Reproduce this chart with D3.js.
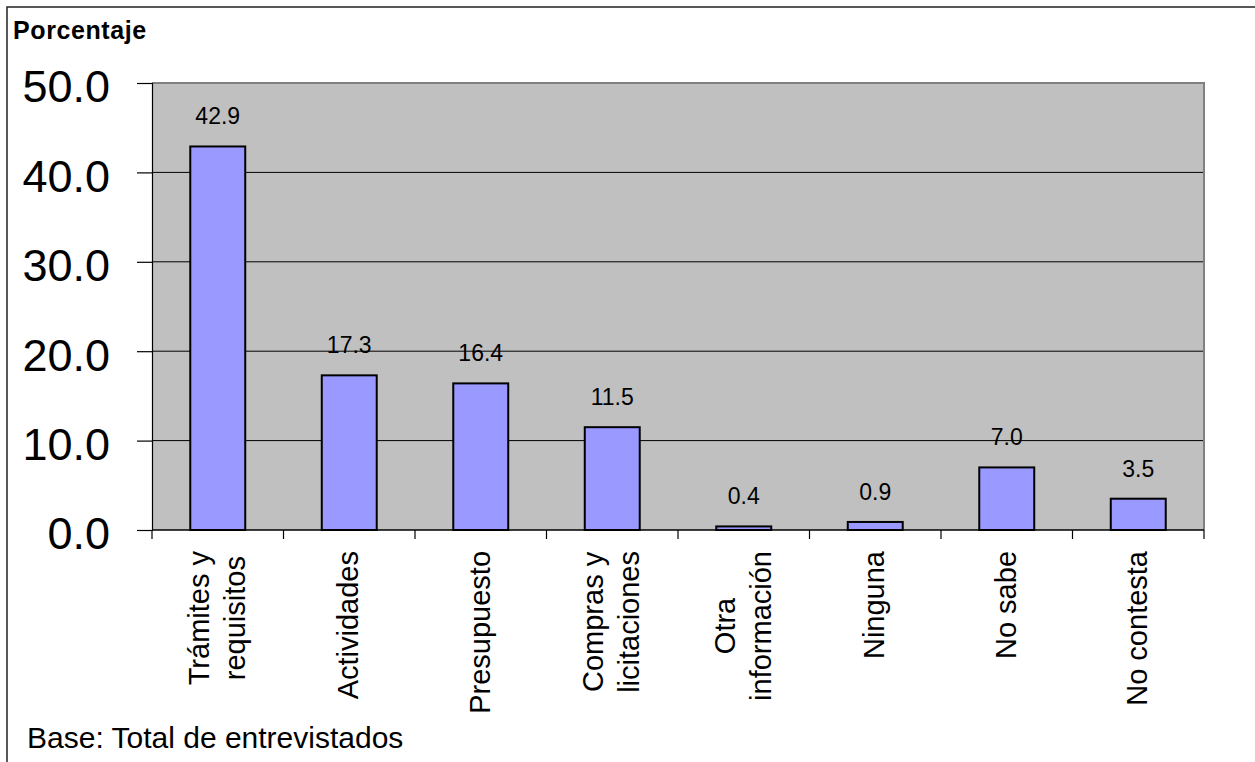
<!DOCTYPE html>
<html>
<head>
<meta charset="utf-8">
<script src="https://cdn.jsdelivr.net/npm/d3@7"></script>
<style>
    body { margin: 0; background: #fff; }
    text { font-family: "Liberation Sans", Arial, sans-serif; }
</style>
</head>
<body>
<svg id="chart" width="1255" height="762"></svg>
<script>
// categories (line breaks as in the original axis labels)
const categories = ["Trámites y\nrequisitos", "Actividades", "Presupuesto", "Compras y\nlicitaciones",
                    "Otra\ninformación", "Ninguna", "No sabe", "No contesta"];
const values = [42.9, 17.3, 16.4, 11.5, 0.4, 0.9, 7.0, 3.5];
const yTicks = [0, 10, 20, 30, 40, 50];

let svg = d3.select("#chart");

let plot = {left: 152, right: 1204, top: 83, bottom: 530};

//Outer frame of the chart object
svg.append("path")
    .attr("d", "M7,762V7H1255")
    .attr("fill", "none")
    .attr("stroke", "#222")
    .attr("stroke-width", 1.5);

let xScale = d3.scaleBand()
    .domain(categories)
    .range([plot.left, plot.right])
    .paddingInner(0.582)
    .paddingOuter(0.291);

let yScale = d3.scaleLinear()
    .domain([0, 50])
    .range([plot.bottom, plot.top]);

//Plot area background
svg.append("rect")
    .attr("x", plot.left)
    .attr("y", plot.top)
    .attr("width", plot.right - plot.left)
    .attr("height", plot.bottom - plot.top)
    .attr("fill", "#C0C0C0");

//Gridlines
svg.append("g").selectAll("line")
    .data(yTicks.filter(d => d > 0 && d < 50))
    .enter().append("line")
    .attr("x1", plot.left)
    .attr("x2", plot.right)
    .attr("y1", d => yScale(d))
    .attr("y2", d => yScale(d))
    .attr("stroke", "#000")
    .attr("stroke-width", 1);

//Plot border top and right
svg.append("path")
    .attr("d", "M" + plot.left + "," + plot.top + "H" + plot.right + "V" + plot.bottom)
    .attr("fill", "none")
    .attr("stroke", "#808080")
    .attr("stroke-width", 2);

//Bars
svg.append("g").selectAll("rect")
    .data(values)
    .enter().append("rect")
    .attr("x", (d, i) => xScale(categories[i]))
    .attr("y", d => yScale(d))
    .attr("width", xScale.bandwidth())
    .attr("height", d => yScale(0) - yScale(d))
    .attr("fill", "#9999FF")
    .attr("stroke", "#000")
    .attr("stroke-width", 2);

//Value labels
svg.append("g").selectAll("text")
    .data(values)
    .enter().append("text")
    .attr("x", (d, i) => xScale(categories[i]) + xScale.bandwidth() / 2)
    .attr("y", d => yScale(d) - 22)
    .attr("text-anchor", "middle")
    .attr("font-size", 23)
    .attr("fill", "#000")
    .text(d => d.toFixed(1));

//Y axis
let yAxis = svg.append("g")
    .attr("transform", "translate(" + plot.left + ",0)")
    .call(d3.axisLeft(yScale).tickValues(yTicks).tickSize(15).tickPadding(27).tickFormat(d3.format(".1f")));
yAxis.select(".domain").attr("stroke", "#000").attr("stroke-width", 1.2);
yAxis.selectAll(".tick line").attr("stroke", "#000").attr("stroke-width", 1.2);
yAxis.selectAll(".tick text")
    .attr("font-size", 45)
    .attr("font-family", "Liberation Sans, Arial, sans-serif")
    .attr("fill", "#000")
    .attr("dy", "0.42em");

//X axis line and ticks at category boundaries
let step = xScale.step();
let boundaries = d3.range(categories.length + 1).map(i => plot.left + i * step);
svg.append("line")
    .attr("x1", plot.left)
    .attr("x2", plot.right)
    .attr("y1", plot.bottom)
    .attr("y2", plot.bottom)
    .attr("stroke", "#000")
    .attr("stroke-width", 1.5);
svg.append("g").selectAll("line")
    .data(boundaries)
    .enter().append("line")
    .attr("x1", d => d)
    .attr("x2", d => d)
    .attr("y1", plot.bottom)
    .attr("y2", plot.bottom + 9)
    .attr("stroke", "#000")
    .attr("stroke-width", 1.2);

//X labels, rotated, top aligned, lines centered on each other
let labelTop = 551, lineHeight = 36;
let xLabels = svg.append("g").selectAll("text")
    .data(categories)
    .enter().append("text")
    .attr("font-size", 29)
    .attr("fill", "#000")
    .attr("text-anchor", "middle");

xLabels.each(function(d) {
    let t = d3.select(this);
    let lines = d.split("\n");
    lines.forEach((line, i) => {
        t.append("tspan")
            .attr("x", 0)
            .attr("y", 9 + (i - (lines.length - 1) / 2) * lineHeight)
            .text(line);
    });
    let maxLen = d3.max(t.selectAll("tspan").nodes(), n => n.getComputedTextLength());
    let cx = xScale(d) + xScale.bandwidth() / 2;
    t.attr("transform", "translate(" + cx + "," + (labelTop + maxLen / 2) + ") rotate(-90)");
});

//Axis title
svg.append("text")
    .attr("x", 13)
    .attr("y", 39)
    .attr("font-size", 25)
    .attr("font-weight", "bold")
    .attr("letter-spacing", 0.6)
    .attr("fill", "#000")
    .text("Porcentaje");

//Footnote
svg.append("text")
    .attr("x", 27)
    .attr("y", 748)
    .attr("font-size", 30)
    .attr("fill", "#000")
    .text("Base: Total de entrevistados");
</script>
</body>
</html>
